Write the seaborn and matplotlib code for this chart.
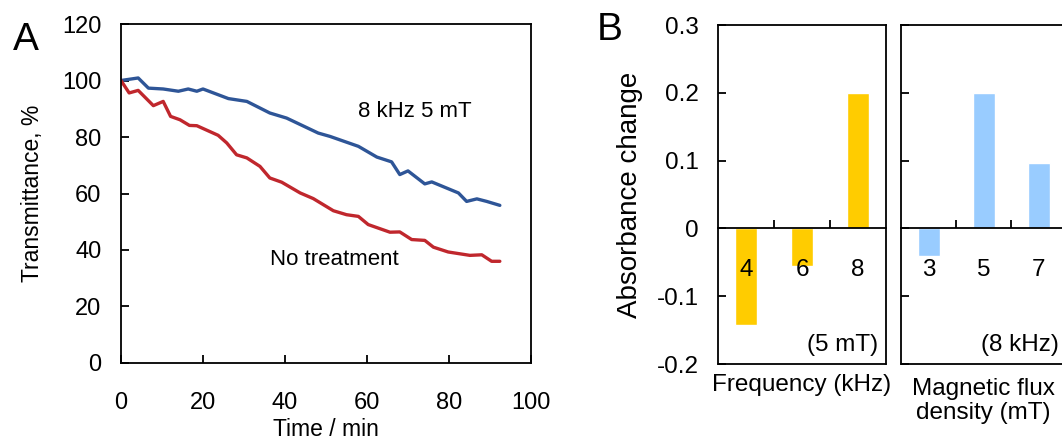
import matplotlib
matplotlib.use("Agg")
import matplotlib.pyplot as plt
import seaborn as sns

# panel A: transmittance vs time
t_treat = [0, 4.2, 6.7, 10.3, 14, 16.4, 18.5, 20, 26.2, 30.7, 36.3, 40.4, 48.1, 51, 57.9,
           62.4, 66, 68, 70, 74.1, 75.8, 82.3, 84.3, 86.8, 89.2, 92.4]
y_treat = [100, 100.9, 97.3, 97, 96.2, 97, 96.2, 97, 93.6, 92.6, 88.5, 86.7, 81.4, 80.2, 76.7,
           72.9, 71.2, 66.7, 68, 63.4, 64.1, 60.2, 57.2, 58.1, 57.2, 55.8]

t_none = [0, 2, 4.2, 7.9, 10.3, 12.1, 14.4, 16.7, 18.5, 23.7, 25.8, 28.2, 30.7, 33.9, 36.3,
          39.2, 43.7, 46.9, 51.8, 55, 57.9, 60.3, 65.6, 68, 70.9, 74.1, 76.2, 79.8, 85.1,
          88, 90.4, 92.4]
y_none = [100, 95.6, 96.5, 91.1, 92.6, 87.3, 86.1, 84.1, 84, 80.6, 77.9, 73.7, 72.6, 69.6, 65.5,
          64, 60.2, 58.2, 53.9, 52.5, 51.9, 49, 46.3, 46.4, 43.7, 43.4, 41, 39.3, 38.1,
          38.3, 36, 36]

# panel B: absorbance change
freq_labels = ["4", "6", "8"]
freq_values = [-0.143, -0.056, 0.2]
flux_labels = ["3", "5", "7"]
flux_values = [-0.041, 0.2, 0.097]

sns.set_style("ticks")
plt.rcParams["font.family"] = ["Liberation Sans", "DejaVu Sans"]
plt.rcParams.update({"text.color": "black", "axes.labelcolor": "black",
                     "xtick.color": "black", "ytick.color": "black"})

fig = plt.figure(figsize=(10.62, 4.43), dpi=100)
ax_a = fig.add_axes([0.1139, 0.1806, 0.3861, 0.7652])
ax_b1 = fig.add_axes([0.6761, 0.1783, 0.1582, 0.7652])
ax_b2 = fig.add_axes([0.8484, 0.1783, 0.1554, 0.7652])

# ---- A ----
sns.lineplot(x=t_treat, y=y_treat, color="#2E5597", lw=2.4, ax=ax_a)
sns.lineplot(x=t_none, y=y_none, color="#C0272D", lw=2.4, ax=ax_a)
ax_a.set_xlim(0, 100)
ax_a.set_ylim(0, 120)
ax_a.set_xticks(range(0, 101, 20))
ax_a.set_yticks(range(0, 121, 20))
ax_a.tick_params(direction="in", length=6, width=1.3, labelsize=17)
ax_a.tick_params(axis="x", pad=21)
ax_a.tick_params(axis="y", pad=14)
ax_a.set_xlabel("Time / min", fontsize=16.5, labelpad=3)
ax_a.set_ylabel("Transmittance, %", fontsize=16.5, labelpad=13)
for s in ax_a.spines.values():
    s.set_linewidth(1.3)
    s.set_color("black")
ax_a.text(71.7, 89, "8 kHz 5 mT", fontsize=16, ha="center", va="center")
ax_a.text(52, 36.5, "No treatment", fontsize=16, ha="center", va="center")

# ---- B ----
def bar_panel(ax, labels, values, color, note, show_ylabels):
    sns.barplot(x=labels, y=values, color=color, width=0.4, saturation=1, ax=ax)
    ax.set_axisbelow(False)
    ax.set_xlim(-0.5, 2.5)
    ax.set_ylim(-0.2, 0.3)
    ax.set_yticks([-0.2, -0.1, 0, 0.1, 0.2, 0.3])
    ax.spines["bottom"].set_position(("data", 0))
    ax.set_xticks([0.5, 1.5])
    ax.set_xticklabels([])
    ax.set_xticks([0, 1, 2], minor=True)
    ax.set_xticklabels(labels, minor=True)
    ax.tick_params(axis="x", which="major", direction="in", length=6, width=1.3)
    ax.tick_params(axis="x", which="minor", length=0, pad=22, labelsize=17.5)
    ax.tick_params(axis="y", direction="in", length=6, width=1.3, labelsize=17.5, pad=14)
    if show_ylabels:
        ax.set_yticklabels(["-0.2", "-0.1", "0", "0.1", "0.2", "0.3"])
        ax.set_ylabel("Absorbance change", fontsize=20, labelpad=10)
    else:
        ax.set_yticklabels([])
        ax.set_ylabel("")
    ax.set_xlabel("")
    for s in ax.spines.values():
        s.set_linewidth(1.3)
        s.set_color("black")
    ax.plot([0, 1], [0, 0], transform=ax.transAxes, color="black", lw=1.3, clip_on=False)
    ax.text(0.955, 0.056, note, transform=ax.transAxes, fontsize=17.5, ha="right", va="center")

bar_panel(ax_b1, freq_labels, freq_values, "#FFCC00", "(5 mT)", True)
bar_panel(ax_b2, flux_labels, flux_values, "#99CCFF", "(8 kHz)", False)

fig.text(802 / 1062, 1 - 385 / 443, "Frequency (kHz)", fontsize=17.5, ha="center", va="center")
fig.text(983 / 1062, 1 - 401 / 443, "Magnetic flux\ndensity (mT)", fontsize=17.5,
         ha="center", va="center", multialignment="center", linespacing=1.15)

fig.text(26 / 1062, 1 - 40 / 443, "A", fontsize=28, ha="center", va="center")
fig.text(610 / 1062, 1 - 30 / 443, "B", fontsize=28, ha="center", va="center")

fig.savefig("out.png", dpi=100)
